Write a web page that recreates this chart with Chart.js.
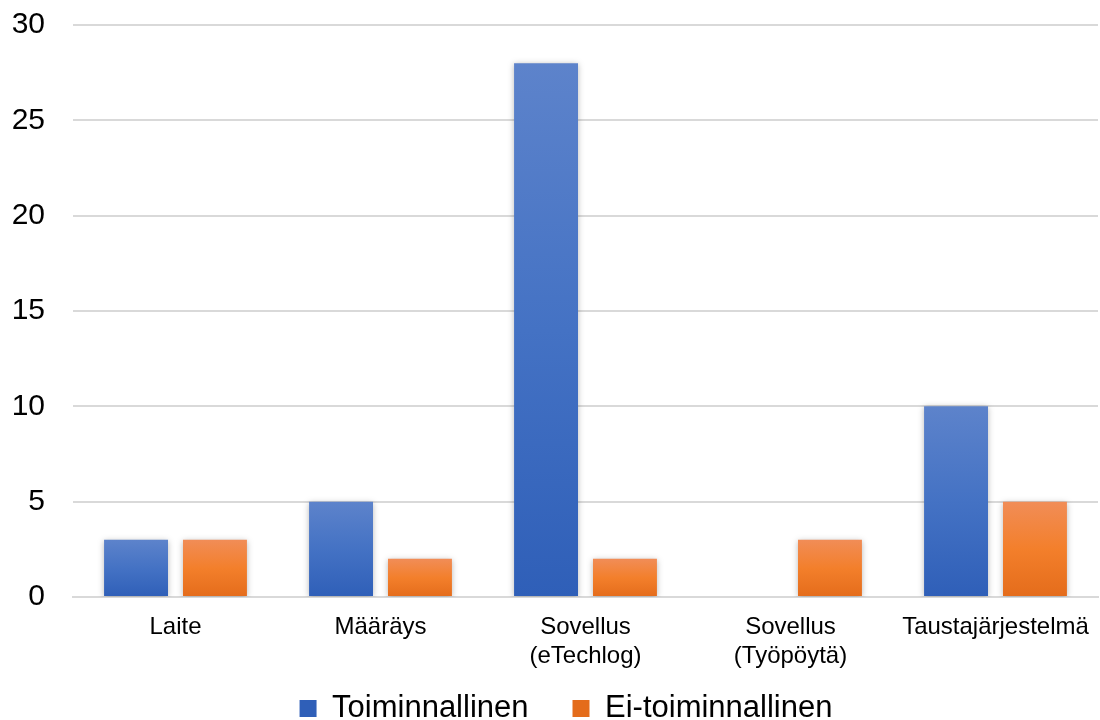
<!DOCTYPE html>
<html>
<head>
<meta charset="utf-8">
<script src="https://cdn.jsdelivr.net/npm/chart.js@4.4.1/dist/chart.umd.min.js"></script>
<style>
  html, body { margin: 0; padding: 0; background: #fff; }
  #wrap { width: 1100px; height: 720px; }
</style>
</head>
<body>
<div id="wrap"><canvas id="myChart" width="1100" height="720"></canvas></div>
<script>
const categories = ["Laite", "Määräys", ["Sovellus", "(eTechlog)"], ["Sovellus", "(Työpöytä)"], "Taustajärjestelmä"];
const toiminnallinen = [3, 5, 28, 0, 10];
const eiToiminnallinen = [3, 2, 2, 3, 5];
const yTicks = [0, 5, 10, 15, 20, 25, 30];

// vertical gradient per bar, from its top to the zero line
function barFill(top, mid, bottom) {
    return function (ctx) {
        const chart = ctx.chart;
        if (ctx.type !== "data" || !chart.chartArea) return mid;
        const y = chart.scales.y;
        const y1 = y.getPixelForValue(ctx.raw);
        const y0 = y.getPixelForValue(0);
        if (y0 - y1 < 1) return mid;
        const g = chart.ctx.createLinearGradient(0, y1, 0, y0);
        g.addColorStop(0, top);
        g.addColorStop(0.5, mid);
        g.addColorStop(1, bottom);
        return g;
    };
}

const barShadow = {
    id: "barShadow",
    beforeDatasetsDraw(chart) {
        const c = chart.ctx;
        c.save();
        c.shadowColor = "rgba(0,0,0,0.28)";
        c.shadowBlur = 6;
        c.shadowOffsetX = 0;
        c.shadowOffsetY = 1;
    },
    afterDatasetsDraw(chart) {
        chart.ctx.restore();
    }
};

// legend sits a bit lower and more to the right in the original
const legendShift = {
    id: "legendShift",
    afterLayout(chart) {
        const l = chart.legend;
        l.left += 14;
        l.right += 14;
        l.top -= 20;
    }
};

Chart.defaults.font.family = "'Liberation Sans', Arial, sans-serif";
Chart.defaults.color = "#000";

new Chart(document.getElementById("myChart").getContext("2d"), {
    type: "bar",
    data: {
        labels: categories,
        datasets: [{
            label: "Toiminnallinen",
            data: toiminnallinen,
            backgroundColor: barFill("#5d83cb", "#4472c4", "#2f5fb8")
        }, {
            label: "Ei-toiminnallinen",
            data: eiToiminnallinen,
            backgroundColor: barFill("#f18d57", "#f37f2b", "#e46c1b")
        }]
    },
    plugins: [barShadow, legendShift],
    options: {
        responsive: false,
        animation: false,
        layout: {padding: {top: 25, right: 2, left: 6, bottom: 0}},
        datasets: {
            bar: {categoryPercentage: 0.77, barPercentage: 0.81}
        },
        plugins: {
            tooltip: {enabled: false},
            legend: {
                position: "bottom",
                maxHeight: 51,
                labels: {
                    font: {size: 31},
                    boxWidth: 17,
                    boxHeight: 17,
                    padding: 44,
                    color: "#000"
                }
            }
        },
        scales: {
            x: {
                grid: {display: false, drawTicks: false},
                border: {display: true, color: "#d9d9d9", width: 2},
                ticks: {font: {size: 24, lineHeight: 1.2}, padding: 16, maxRotation: 0, autoSkip: false},
                afterFit(axis) {
                    axis.height = 72;
                    axis.paddingLeft = 0;
                    axis.paddingRight = 0;
                }
            },
            y: {
                min: 0,
                max: 30,
                afterBuildTicks(axis) {
                    axis.ticks = yTicks.map(v => ({value: v}));
                },
                afterFit(axis) {
                    axis.width = 67;
                    axis.paddingTop = 0;
                },
                grid: {color: "#d9d9d9", lineWidth: 2, drawTicks: false},
                border: {display: false},
                ticks: {font: {size: 30}, padding: 28}
            }
        }
    }
});
</script>
</body>
</html>
